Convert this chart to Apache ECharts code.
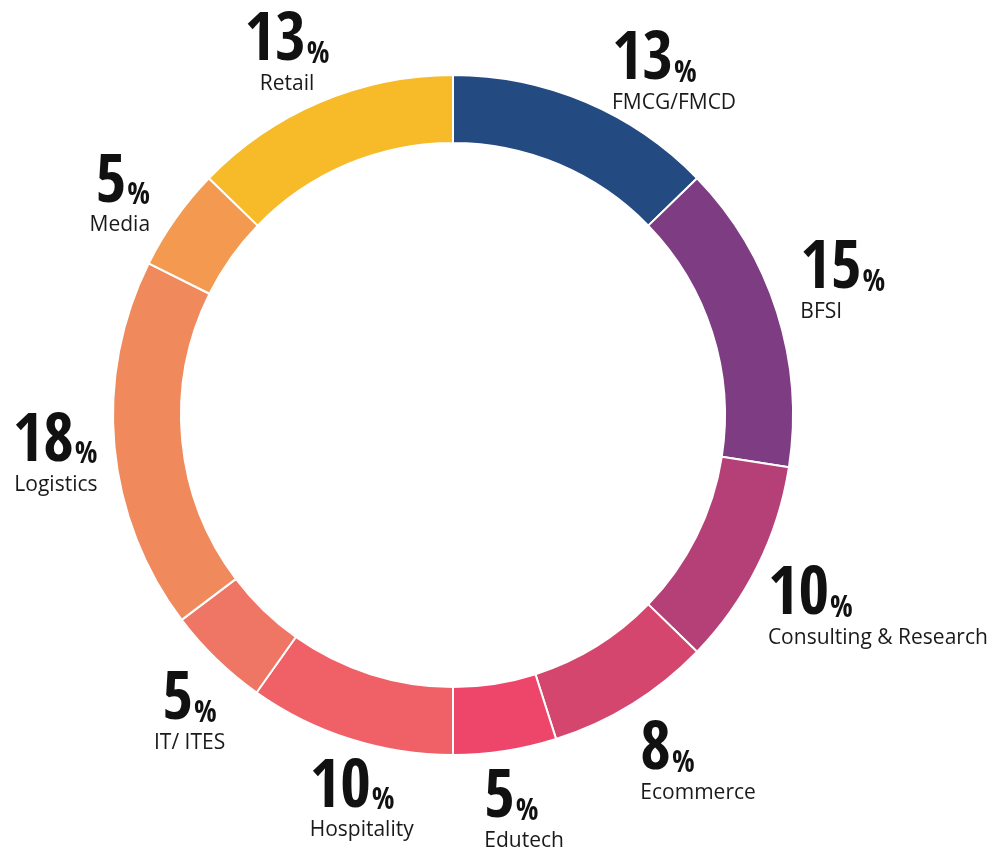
<!DOCTYPE html>
<html>
<head>
<meta charset="utf-8">
<script src="https://cdn.jsdelivr.net/npm/echarts@6/dist/echarts.min.js"></script>
<style>
  html, body { margin: 0; padding: 0; background: #fff; }
  #chart { width: 998px; height: 851px; }
</style>
</head>
<body>
<div id="chart"></div>
<script>
const sectors = ['FMCG/FMCD', 'BFSI', 'Consulting & Research', 'Ecommerce', 'Edutech',
  'Hospitality', 'IT/ ITES', 'Logistics', 'Media', 'Retail']
const shares = [13, 15, 10, 8, 5, 10, 5, 18, 5, 13]
const colors = ['#244a82', '#7e3c83', '#b54077', '#d4466d', '#ee466b',
  '#f06167', '#ef7564', '#f08a5d', '#f39a50', '#f7bb2a']

// how each label block is aligned, and a small nudge from the default outside spot
const labelAlign = ['left', 'left', 'left', 'left', 'left', 'left', 'center', 'right', 'right', 'center']
const labelNudge = [[16, -6], [5, -16], [-7, 45], [-4, 57], [-28, 56],
  [-31, 58], [-12, 54], [2, 17], [-9, -5], [-23, -25]]

const numFont = '"Open Sans Condensed", "Roboto Condensed", sans-serif'
const nameFont = '"Open Sans", "Noto Sans", sans-serif'

const rich = {}
;['left', 'center', 'right'].forEach(a => {
  rich['num_' + a] = { fontFamily: numFont, fontWeight: 800, fontSize: 66, lineHeight: 40, color: '#111', align: a, verticalAlign: 'bottom' }
  rich['pct_' + a] = { fontFamily: numFont, fontWeight: 700, fontSize: 30, lineHeight: 14, color: '#111', align: a, verticalAlign: 'bottom', padding: [0, 0, 6, 1] }
  rich['name_' + a] = { fontFamily: nameFont, fontSize: 21, lineHeight: 16, color: '#1a1a1a', align: a }
})

const chart = echarts.init(document.getElementById('chart'))

chart.setOption({
  animation: false,
  series: [
    {
      type: 'pie',
      center: [453, 415],
      radius: [272, 340],
      startAngle: 90,
      avoidLabelOverlap: false,
      itemStyle: {
        borderColor: '#fff',
        borderWidth: 2
      },
      label: {
        show: true,
        position: 'outside',
        formatter: p => {
          const a = labelAlign[p.dataIndex]
          return `{num_${a}|${p.value}}{pct_${a}|%}\n{name_${a}|${p.name}}`
        },
        rich
      },
      labelLine: {
        show: false,
        length: 14,
        length2: 0
      },
      labelLayout: p => ({
        dx: labelNudge[p.dataIndex][0],
        dy: labelNudge[p.dataIndex][1],
        align: labelAlign[p.dataIndex]
      }),
      emphasis: { disabled: true },
      data: sectors.map((name, i) => ({
        name,
        value: shares[i],
        itemStyle: { color: colors[i] }
      }))
    }
  ]
})
</script>
</body>
</html>
